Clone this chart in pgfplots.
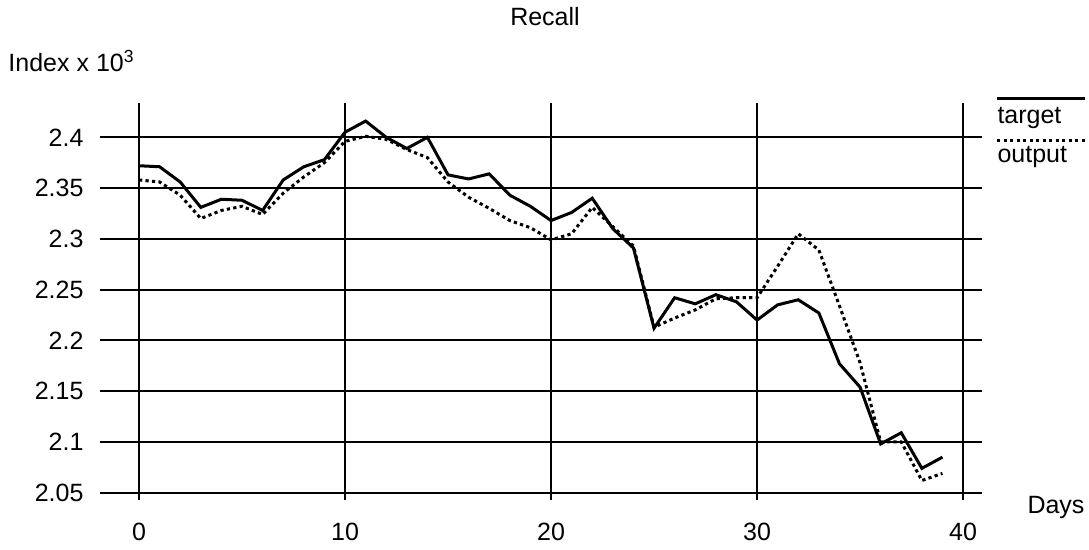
\documentclass[border=0pt]{standalone}
\usepackage{fontspec}
\setmainfont{Liberation Sans}
\usepackage{pgfplots}
\pgfplotsset{compat=1.18}
\begin{document}
\begin{tikzpicture}
\useasboundingbox (0pt,0pt) rectangle (435.6pt,219.6pt);
\begin{axis}[
  at={(40pt,19.6pt)}, anchor=south west,
  width=352.8pt, height=158.8pt, scale only axis,
  xmin=-1.893, xmax=40.92, ymin=2.0428, ymax=2.4338,
  axis line style={draw=none},
  tick style={draw=none},
  major tick length=0pt,
  xtick={0,10,20,30,40},
  ytick={2.05,2.1,2.15,2.2,2.25,2.3,2.35,2.4},
  yticklabels={2.05,2.1,2.15,2.2,2.25,2.3,2.35,2.4},
  xticklabels={0,10,20,30,40},
  grid=major,
  major grid style={black, line width=0.8pt},
  yticklabel style={anchor=east, inner sep=0pt, xshift=-6.4pt},
  xticklabel style={anchor=center, inner sep=0pt, yshift=-12.8pt},
  clip=false,
]
\addplot[black, line width=1.2pt, line join=miter] coordinates {
(0,2.372) (1,2.371) (2,2.356) (3,2.331) (4,2.339) (5,2.338) (6,2.328) (7,2.358)
(8,2.371) (9,2.378) (10,2.405) (11,2.416) (12,2.400) (13,2.389) (14,2.400)
(15,2.363) (16,2.359) (17,2.364) (18,2.343) (19,2.332) (20,2.318) (21,2.326)
(22,2.340) (23,2.310) (24,2.291) (25,2.212) (26,2.242) (27,2.236) (28,2.245)
(29,2.238) (30,2.220) (31,2.235) (32,2.240) (33,2.227) (34,2.177) (35,2.154)
(36,2.098) (37,2.109) (38,2.074) (39,2.085)
};
\addplot[black, line width=1.2pt, dash pattern=on 1.3pt off 1.3pt] coordinates {
(0,2.358) (1,2.356) (2,2.343) (3,2.320) (4,2.328) (5,2.332) (6,2.324) (7,2.345)
(8,2.361) (9,2.375) (10,2.396) (11,2.401) (12,2.398) (13,2.388) (14,2.380)
(15,2.356) (16,2.341) (17,2.330) (18,2.318) (19,2.311) (20,2.299) (21,2.305)
(22,2.331) (23,2.312) (24,2.293) (25,2.213) (26,2.222) (27,2.230) (28,2.241)
(29,2.242) (30,2.242) (31,2.273) (32,2.305) (33,2.289) (34,2.234) (35,2.178)
(36,2.100) (37,2.100) (38,2.062) (39,2.069)
};
\end{axis}
\node[anchor=base, inner sep=0pt] at (218pt,209.2pt) {Recall};
\node[anchor=base west, inner sep=0pt] at (3.2pt,190.8pt) {Index x 10\textsuperscript{3}};
\node[anchor=base west, inner sep=0pt] at (410.8pt,14.4pt) {Days};
\node[anchor=base west, inner sep=0pt] at (398.8pt,170pt) {target};
\node[anchor=base west, inner sep=0pt] at (398.8pt,154.4pt) {output};
\draw[black, line width=1.2pt] (398.8pt,180pt) -- (434pt,180pt);
\draw[black, line width=1.2pt, dash pattern=on 1.3pt off 1.3pt] (398.8pt,163.2pt) -- (434pt,163.2pt);
\end{tikzpicture}
\end{document}
